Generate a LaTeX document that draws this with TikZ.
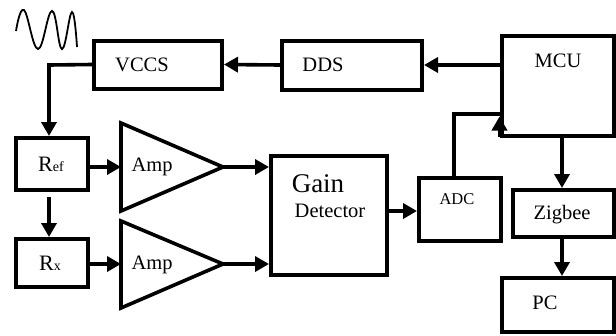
\documentclass[tikz,border=0pt]{standalone}
\usepackage{fontspec}
\setmainfont{Liberation Serif}
\usetikzlibrary{arrows.meta,calc}
\begin{document}
\begin{tikzpicture}[x=1pt,y=-1pt,
  blk/.style={draw,line width=4pt,minimum width=#1,inner sep=0pt},
  lbl/.style={inner sep=0pt,font=\fontsize{20.5}{24}\selectfont},
  arr/.style={line width=3.6pt,-{Triangle[length=14pt,width=15pt]}},
  ln/.style={line width=3.6pt},
  amp/.style={line width=3.6pt,line join=miter}]
\useasboundingbox (0,0) rectangle (616,335);
% boxes
\node[blk=128pt,minimum height=48pt] (vccs) at (158,64.5) {};
\node[blk=140pt,minimum height=49pt] (dds) at (352,65) {};
\node[blk=112pt,minimum height=100pt] (mcu) at (557.5,86) {};
\node[blk=101pt,minimum height=47pt] (zig) at (563.5,213.5) {};
\node[blk=112pt,minimum height=54pt] (pc) at (558,305) {};
\node[blk=82pt,minimum height=63pt] (adc) at (460,209.5) {};
\node[blk=116pt,minimum height=119pt] (gd) at (329,215.5) {};
\node[blk=72pt,minimum height=52pt] (ref) at (52,164) {};
\node[blk=72pt,minimum height=48pt] (rx) at (52,263) {};
% amplifiers
\coordinate (a1in) at (121,167); \coordinate (a1out) at (223,167);
\coordinate (a2in) at (121,264); \coordinate (a2out) at (223,264);
\draw[amp] (121,123) -- (a1out) -- (121,211) -- cycle;
\draw[amp] (121,221) -- (a2out) -- (121,308) -- cycle;
% labels
\node[lbl] (tvccs) at (142,65) {VCCS};
\node[lbl] (tdds) at (323,65) {DDS};
\node[lbl] (tmcu) at (558,61) {MCU};
\node[lbl] (tzig) at (562,215) {Zigbee};
\node[lbl] (tpc) at (545,303) {PC};
\node[lbl,font=\fontsize{16.5}{20}\selectfont] (tadc) at (457,199) {ADC};
\node[lbl,font=\fontsize{27}{30}\selectfont] (tgain) at (318,184) {Gain};
\node[lbl] (tdet) at (330,211) {Detector};
\node[lbl] (ta1) at (152,167) {Amp};
\node[lbl] (ta2) at (152,265) {Amp};
\node[lbl] (tref) at (51,164) {\fontsize{22}{24}\selectfont R\fontsize{14}{16}\selectfont ef};
\node[lbl] (trx) at (50,263) {\fontsize{22}{24}\selectfont R\fontsize{14}{16}\selectfont x};
% sine wave
\draw[line width=1.8pt] plot[smooth,tension=0.7] coordinates
  {(16,31) (24,10) (38,49) (52,11) (62,49) (72,12) (77,47)};
% connectors
\draw[arr] (dds.east -| mcu.west) -- (dds.east);
\draw[arr] (dds.west) -- (vccs.east);
\coordinate (vl) at (49,65);
\draw[arr] (vccs.west) -- (vl) -- (vl |- ref.north);
\coordinate (rd) at (49,197);
\draw[arr] (rd) -- (rd |- rx.north);
\draw[arr] (ref.east |- a1in) -- (a1in);
\draw[arr] (rx.east |- a2in) -- (a2in);
\draw[arr] (a1out) -- (a1out -| gd.west);
\draw[arr] (a2out) -- (a2out -| gd.west);
\coordinate (gdo) at (388,211);
\draw[arr] (gd.east |- gdo) -- (gdo -| adc.west);
\coordinate (au) at (454,114);
\draw[ln] (au |- adc.north) -- (au) -- (au -| mcu.west);
\draw[arr] (mcu.south west) ++(0,-1.5) coordinate (mb) -- ++(0,-20);
\coordinate (md) at (562,0);
\draw[arr] (md |- mcu.south) -- (md |- zig.north);
\draw[arr] (md |- zig.south) -- (md |- pc.north);
\end{tikzpicture}
\end{document}
